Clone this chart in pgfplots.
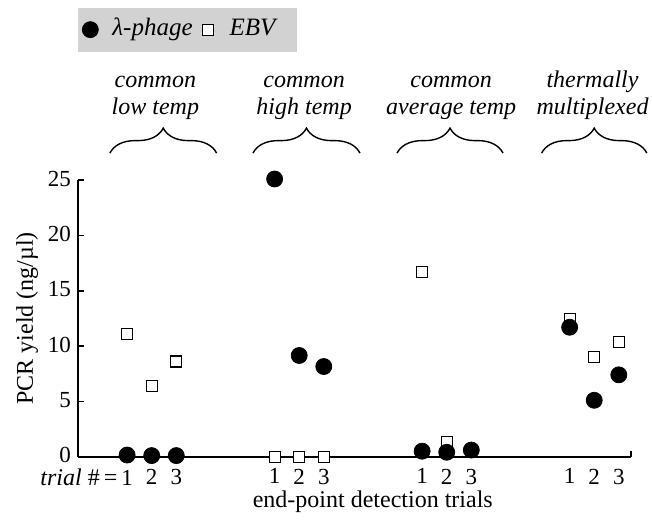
\documentclass[border=0pt]{standalone}
\usepackage{fontspec}
\setmainfont{Liberation Serif}
\usepackage{pgfplots}
\pgfplotsset{compat=1.18}
\usetikzlibrary{decorations.pathreplacing}
\begin{document}
\begin{tikzpicture}[font=\fontsize{12}{14}\selectfont]
\begin{axis}[
  scale only axis, width=276.5pt, height=138.25pt,
  xmin=0, xmax=22.5, ymin=0, ymax=25,
  axis x line=bottom, axis y line=left,
  axis line style={-, line width=0.8pt},
  clip=false,
  xtick={2,3,4,8,9,10,14,15,16,20,21,22},
  xticklabels={\llap{\fontsize{12}{14}\selectfont\textit{trial} \#\,=\,}1,2,3,1,2,3,1,2,3,1,2,3},
  x tick style={draw=none},
  ytick={0,5,10,15,20,25},
  tick align=inside,
  y tick style={line width=0.8pt, black},
  major tick length=3.2pt,
  /pgf/number format/assume math mode=true,
  tick label style={font=\fontsize{11.5}{13}\selectfont},
  xticklabel style={yshift=-2.5pt},
  yticklabel style={yshift=0.8pt},
  ylabel={PCR yield (ng/µl)},
  ylabel style={yshift=-2pt},
  xlabel={end-point detection trials},
  xlabel style={at={(axis description cs:0.533,-0.185)}, anchor=base},
  legend style={at={(0,1.625)}, anchor=north west, fill=gray!35, draw=none,
    inner xsep=2pt, inner ysep=5pt, column sep=0pt,
    nodes={inner xsep=0pt, inner ysep=0pt, text height=9pt, text depth=3pt},
    font=\fontsize{12.5}{14}\selectfont\itshape},
  legend columns=2,
  legend image code/.code={\draw[#1] plot coordinates {(0cm,0cm)};},
]
\addlegendimage{only marks, mark=*, mark size=4pt, black}
\addlegendentry{\kern7pt λ-phage\kern5pt}
\addlegendimage{only marks, mark=square*, mark size=2.75pt, draw=black, fill=white, line width=0.6pt}
\addlegendentry{\kern8pt EBV\kern9pt}

% EBV
\addplot[only marks, mark=square*, mark size=2.75pt, draw=black, fill=white,
  mark options={line width=0.6pt}, forget plot] coordinates {
  (2,11.1) (3,6.4) (4,8.6)
  (8,0) (9,0) (10,0)
  (14,16.7) (15,1.35) (16,0.5)
  (20,12.45) (21,9.0) (22,10.4)
};
% lambda-phage
\addplot[only marks, mark=*, mark size=4pt, black, forget plot] coordinates {
  (2,0.15) (3,0.1) (4,0.1)
  (8,25.1) (9,9.15) (10,8.15)
  (14,0.5) (15,0.4) (16,0.6)
  (20,11.7) (21,5.1) (22,7.4)
};

\draw[line width=0.8pt] (axis cs:22.5,0) -- ++(0,3pt);

% group braces and labels
\draw[decorate, decoration={brace, amplitude=12.5pt}, line width=0.7pt] (axis cs:1.30,27.44) -- (axis cs:5.64,27.44);
\draw[decorate, decoration={brace, amplitude=12.5pt}, line width=0.7pt] (axis cs:7.12,27.44) -- (axis cs:11.47,27.44);
\draw[decorate, decoration={brace, amplitude=12.5pt}, line width=0.7pt] (axis cs:12.98,27.44) -- (axis cs:17.29,27.44);
\draw[decorate, decoration={brace, amplitude=12.5pt}, line width=0.7pt] (axis cs:18.86,27.44) -- (axis cs:23.14,27.44);

\node[anchor=base, font=\fontsize{12}{14}\selectfont\itshape] at (axis cs:3.15,33.4) {common};
\node[anchor=base, font=\fontsize{12}{14}\selectfont\itshape] at (axis cs:3.15,30.9) {low temp};
\node[anchor=base, font=\fontsize{12}{14}\selectfont\itshape] at (axis cs:9.2,33.4) {common};
\node[anchor=base, font=\fontsize{12}{14}\selectfont\itshape] at (axis cs:9.2,30.9) {high temp};
\node[anchor=base, font=\fontsize{12}{14}\selectfont\itshape] at (axis cs:15.18,33.4) {common};
\node[anchor=base, font=\fontsize{12}{14}\selectfont\itshape] at (axis cs:15.18,30.9) {average temp};
\node[anchor=base, font=\fontsize{12}{14}\selectfont\itshape] at (axis cs:20.93,33.4) {thermally};
\node[anchor=base, font=\fontsize{12}{14}\selectfont\itshape] at (axis cs:20.93,30.9) {multiplexed};

\coordinate (bbsw) at (axis cs:-3.17,-5.74);
\coordinate (bbne) at (axis cs:23.35,41.28);
\end{axis}
\pgfresetboundingbox
\path (bbsw) rectangle (bbne);
\end{tikzpicture}
\end{document}
